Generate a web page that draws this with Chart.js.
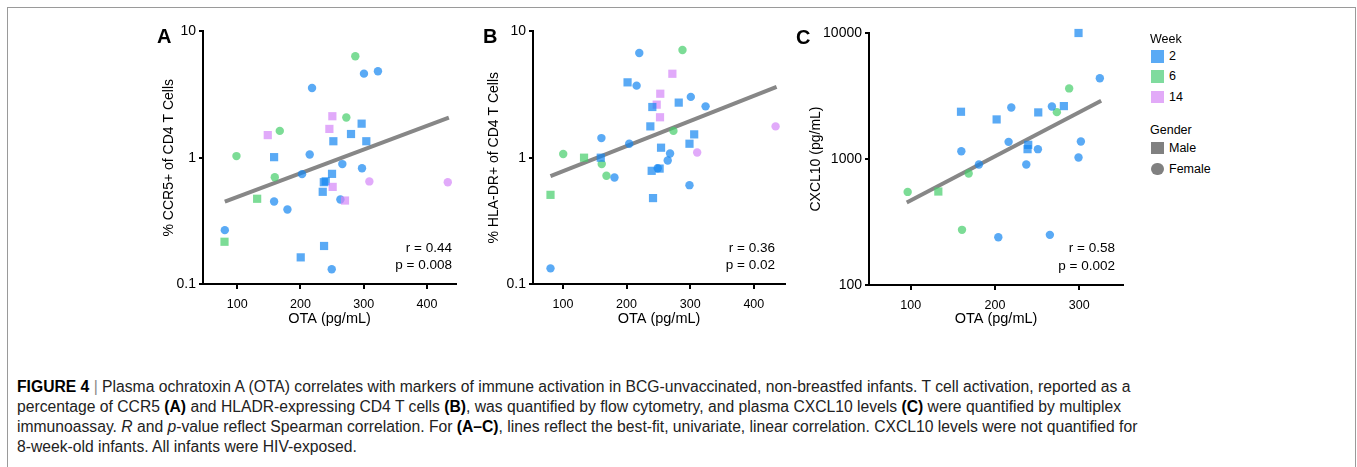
<!DOCTYPE html>
<html>
<head>
<meta charset="utf-8">
<script src="https://cdn.jsdelivr.net/npm/chart.js@4"></script>
<style>
  body { margin: 0; background: #fff; font-family: "Liberation Sans", Arial, sans-serif; }
  #frame { position: absolute; left: 7px; top: 7px; width: 1349px; height: 520px; border: 1.5px solid #9a9a9a; box-sizing: border-box; }
  canvas { position: absolute; }
  .t { position: absolute; white-space: nowrap; color: #000; line-height: 1; }
  .letter { font-weight: bold; font-size: 20px; }
  .stat { font-size: 13.5px; text-align: right; }
  .leg { font-size: 12.5px; }
  .sw { position: absolute; width: 12.5px; height: 12.5px; }
  #caption { position: absolute; left: 17px; top: 377px; color: #222; font-size: 16px; }
  #caption div { height: 20px; line-height: 20px; white-space: nowrap; transform-origin: 0 50%; }
  #caption b { color: #000; }
</style>
</head>
<body>
<div id="frame"></div>

<canvas id="chartA" width="320" height="310" style="left:150px;top:20px"></canvas>
<canvas id="chartB" width="320" height="310" style="left:480px;top:20px"></canvas>
<canvas id="chartC" width="345" height="310" style="left:790px;top:20px"></canvas>

<div class="t letter" style="left:157px;top:26px">A</div>
<div class="t letter" style="left:483px;top:26px">B</div>
<div class="t letter" style="left:796px;top:27px">C</div>

<div class="t stat" style="right:905px;top:241px">r = 0.44</div>
<div class="t stat" style="right:905px;top:258px">p = 0.008</div>
<div class="t stat" style="right:582px;top:241px">r = 0.36</div>
<div class="t stat" style="right:582px;top:258px">p = 0.02</div>
<div class="t stat" style="right:242px;top:241px">r = 0.58</div>
<div class="t stat" style="right:242px;top:259px">p = 0.002</div>

<div id="legend"></div>

<div id="caption">
  <div><b>FIGURE 4</b> <span style="color:#888">|</span> Plasma ochratoxin A (OTA) correlates with markers of immune activation in BCG-unvaccinated, non-breastfed infants. T cell activation, reported as a</div>
  <div>percentage of CCR5 <b>(A)</b> and HLADR-expressing CD4 T cells <b>(B)</b>, was quantified by flow cytometry, and plasma CXCL10 levels <b>(C)</b> were quantified by multiplex</div>
  <div>immunoassay. <i>R</i> and <i>p</i>-value reflect Spearman correlation. For <b>(A–C)</b>, lines reflect the best-fit, univariate, linear correlation. CXCL10 levels were not quantified for</div>
  <div>8-week-old infants. All infants were HIV-exposed.</div>
</div>

<script>
const FONT = '"Liberation Sans", Arial, sans-serif';

// week colours (semi transparent like the original markers) and legend swatches
const weekColors = { 2: 'rgba(20,134,241,0.7)', 6: 'rgba(69,205,105,0.7)', 14: 'rgba(212,134,248,0.7)' };
const weekSwatch = { 2: '#5aaaf5', 6: '#7fdb9e', 14: '#e2aaf8' };
const weekLabels = [2, 6, 14];
const genderLabels = ['Male', 'Female'];

// panel A: % CCR5+ of CD4 T cells
const otaA  = [286.8, 300.5, 322.6, 218.4, 272.6, 167.4, 98.9, 214.7, 266.3, 297.4, 202.6, 159.5, 309, 433, 158.4, 263.2, 179.5, 80.5, 249.5,
               250.5, 245.8, 148.4, 296.8, 280, 252.1, 304.2, 158.4, 250, 237, 240, 251, 235.3, 270.5, 131.6, 80, 237.4, 200.5];
const ccr5A = [6.35, 4.63, 4.83, 3.56, 2.08, 1.63, 1.03, 1.06, 0.89, 0.826, 0.741, 0.701, 0.649, 0.64, 0.45, 0.467, 0.389, 0.267, 0.131,
               2.13, 1.69, 1.51, 1.86, 1.54, 1.35, 1.35, 1.01, 0.745, 0.64, 0.65, 0.587, 0.537, 0.458, 0.473, 0.216, 0.2, 0.1625];
const weekA = [6, 2, 2, 2, 6, 6, 6, 2, 2, 2, 2, 6, 14, 14, 2, 2, 2, 2, 2,
               14, 14, 14, 2, 2, 2, 2, 2, 2, 2, 2, 14, 2, 14, 6, 6, 2, 2];
const sexA  = 'FFFFFFFFFFFFFFFFFFFMMMMMMMMMMMMMMMMMM'.split('');
const fitAx = [80.5, 434.7];
const fitAy = [0.448, 2.08];

// panel B: % HLA-DR+ of CD4 T cells
const otaB  = [287.9, 220, 215.8, 301, 324.2, 434.2, 273.7, 160.5, 204.2, 100.5, 268.4, 311, 264.7, 161, 168.4, 181, 298.9, 249, 80.5,
               272, 201.6, 253, 247.4, 240.5, 282, 252.6, 237.4, 306.3, 298.9, 254.2, 133.2, 159.5, 239.5, 252, 241.6, 80.5];
const hladrB = [7.12, 6.74, 3.72, 3.03, 2.55, 1.77, 1.63, 1.43, 1.29, 1.07, 1.08, 1.1, 0.95, 0.89, 0.72, 0.697, 0.606, 0.826, 0.133,
                4.62, 3.95, 3.21, 2.63, 2.52, 2.73, 2.09, 1.77, 1.53, 1.29, 1.2, 1.0, 1.0, 0.787, 0.82, 0.479, 0.508];
const weekB = [6, 2, 2, 2, 2, 14, 6, 2, 2, 6, 2, 14, 2, 6, 6, 2, 2, 2, 2,
               14, 2, 14, 14, 2, 2, 14, 2, 2, 2, 2, 6, 2, 2, 2, 2, 6];
const sexB  = 'FFFFFFFFFFFFFFFFFFFMMMMMMMMMMMMMMMMM'.split('');
const fitBx = [80.5, 435.8];
const fitBy = [0.714, 3.63];

// panel C: CXCL10 (pg/mL)
const otaC    = [299.2, 159.7, 202, 251.4, 281.8, 239.5, 238.7, 132.8,
                 324.5, 288.1, 273.5, 267.6, 219.4, 216.2, 302, 160.1, 251, 181, 237.2, 299.2, 168.8, 96.4, 160.9, 204, 265.2];
const cxcl10C = [10000, 2371, 2061, 2343, 2630, 1296, 1197, 552,
                 4368, 3633, 2355, 2612, 2566, 1368, 1377, 1153, 1197, 904, 904, 1028, 767, 548, 274, 239, 250];
const weekC   = [2, 2, 2, 2, 2, 2, 2, 6,
                 2, 6, 6, 2, 2, 2, 2, 2, 2, 2, 2, 2, 6, 6, 6, 2, 2];
const sexC    = 'MMMMMMMMFFFFFFFFFFFFFFFFF'.split('');
const fitCx = [95.3, 326.1];
const fitCy = [451, 2900];

function panel(id, ota, vals, week, sex, fitX, fitY, ax) {
  const pts = ota.map((x, i) => ({ x: x, y: vals[i] }));
  const line = fitX.map((x, i) => ({ x: x, y: fitY[i] }));
  new Chart(document.getElementById(id), {
    type: 'scatter',
    data: {
      datasets: [
        {
          data: pts,
          clip: false,
          pointBackgroundColor: c => weekColors[week[c.dataIndex]],
          pointStyle: c => sex[c.dataIndex] === 'M' ? 'rect' : 'circle',
          pointRadius: c => sex[c.dataIndex] === 'M' ? 5.8 : 4.2,
          pointBorderWidth: 0
        },
        {
          type: 'line',
          data: line,
          borderColor: '#878787',
          borderWidth: 4,
          pointRadius: 0,
          clip: false
        }
      ]
    },
    options: {
      responsive: false,
      animation: false,
      events: [],
      layout: { padding: { top: ax.top, right: ax.right, left: 0, bottom: 0 } },
      plugins: { legend: { display: false }, tooltip: { enabled: false } },
      scales: {
        x: {
          type: 'linear', min: ax.xmin, max: ax.xmax,
          afterBuildTicks: s => { s.ticks = ax.xticks.map(v => ({ value: v })); },
          afterFit: s => { s.height = ax.xh; },
          grid: { drawOnChartArea: false, color: '#000', tickLength: 5, lineWidth: 2 },
          border: { color: '#000', width: 2 },
          ticks: { color: '#000', font: { size: 12.5, family: FONT }, padding: 8, maxRotation: 0 },
          title: { display: true, text: 'OTA (pg/mL)', color: '#000', font: { size: 14.5, family: FONT }, padding: { top: 0, bottom: 2 } }
        },
        y: {
          type: 'logarithmic', min: ax.ymin, max: ax.ymax,
          afterBuildTicks: s => { s.ticks = ax.yticks.map(v => ({ value: v })); },
          afterFit: s => { s.width = ax.yw; },
          grid: { drawOnChartArea: false, color: '#000', tickLength: 4, lineWidth: 2 },
          border: { color: '#000', width: 2 },
          ticks: { color: '#000', font: { size: 14, family: FONT }, padding: 3, callback: v => String(v) },
          title: { display: true, text: ax.ytitle, color: '#000', font: { size: 14, family: FONT }, padding: { top: ax.tpad, bottom: 0 } }
        }
      }
    }
  });
}

panel('chartA', otaA, ccr5A, weekA, sexA, fitAx, fitAy, {
  top: 11, right: 14, xh: 46, yw: 53, tpad: 11,
  xmin: 46, xmax: 446, xticks: [100, 200, 300, 400],
  ymin: 0.1, ymax: 10, yticks: [0.1, 1, 10], ytitle: '% CCR5+ of CD4 T Cells'
});
panel('chartB', otaB, hladrB, weekB, sexB, fitBx, fitBy, {
  top: 11, right: 15, xh: 46, yw: 53, tpad: 6,
  xmin: 53, xmax: 449, xticks: [100, 200, 300, 400],
  ymin: 0.1, ymax: 10, yticks: [0.1, 1, 10], ytitle: '% HLA-DR+ of CD4 T Cells'
});
panel('chartC', otaC, cxcl10C, weekC, sexC, fitCx, fitCy, {
  top: 13, right: 12, xh: 45, yw: 79, tpad: 18,
  xmin: 50.5, xmax: 352, xticks: [100, 200, 300],
  ymin: 100, ymax: 10000, yticks: [100, 1000, 10000], ytitle: 'CXCL10 (pg/mL)'
});

// legend
const leg = document.getElementById('legend');
function legText(txt, x, cy) {
  const d = document.createElement('div');
  d.className = 't leg';
  d.textContent = txt;
  d.style.left = x + 'px';
  d.style.top = (cy - 6.5) + 'px';
  leg.appendChild(d);
}
function legSwatch(color, y, round) {
  const s = document.createElement('div');
  s.className = 'sw';
  s.style.left = '1151px';
  s.style.top = y + 'px';
  s.style.background = color;
  if (round) s.style.borderRadius = '50%';
  leg.appendChild(s);
}
legText('Week', 1150, 39);
weekLabels.forEach((w, i) => {
  legSwatch(weekSwatch[w], 50 + i * 20.3, false);
  legText(String(w), 1169, 56.5 + i * 20.3);
});
legText('Gender', 1150, 130);
genderLabels.forEach((g, i) => {
  legSwatch('#808080', 141.8 + i * 21, i === 1);
  legText(g, 1169, 148 + i * 21);
});

// squeeze caption lines to the condensed width of the original
const lines = document.querySelectorAll('#caption div');
const k = 1120 / lines[0].scrollWidth;
lines.forEach(l => { l.style.transform = 'scaleX(' + k + ')'; });
</script>
</body>
</html>
